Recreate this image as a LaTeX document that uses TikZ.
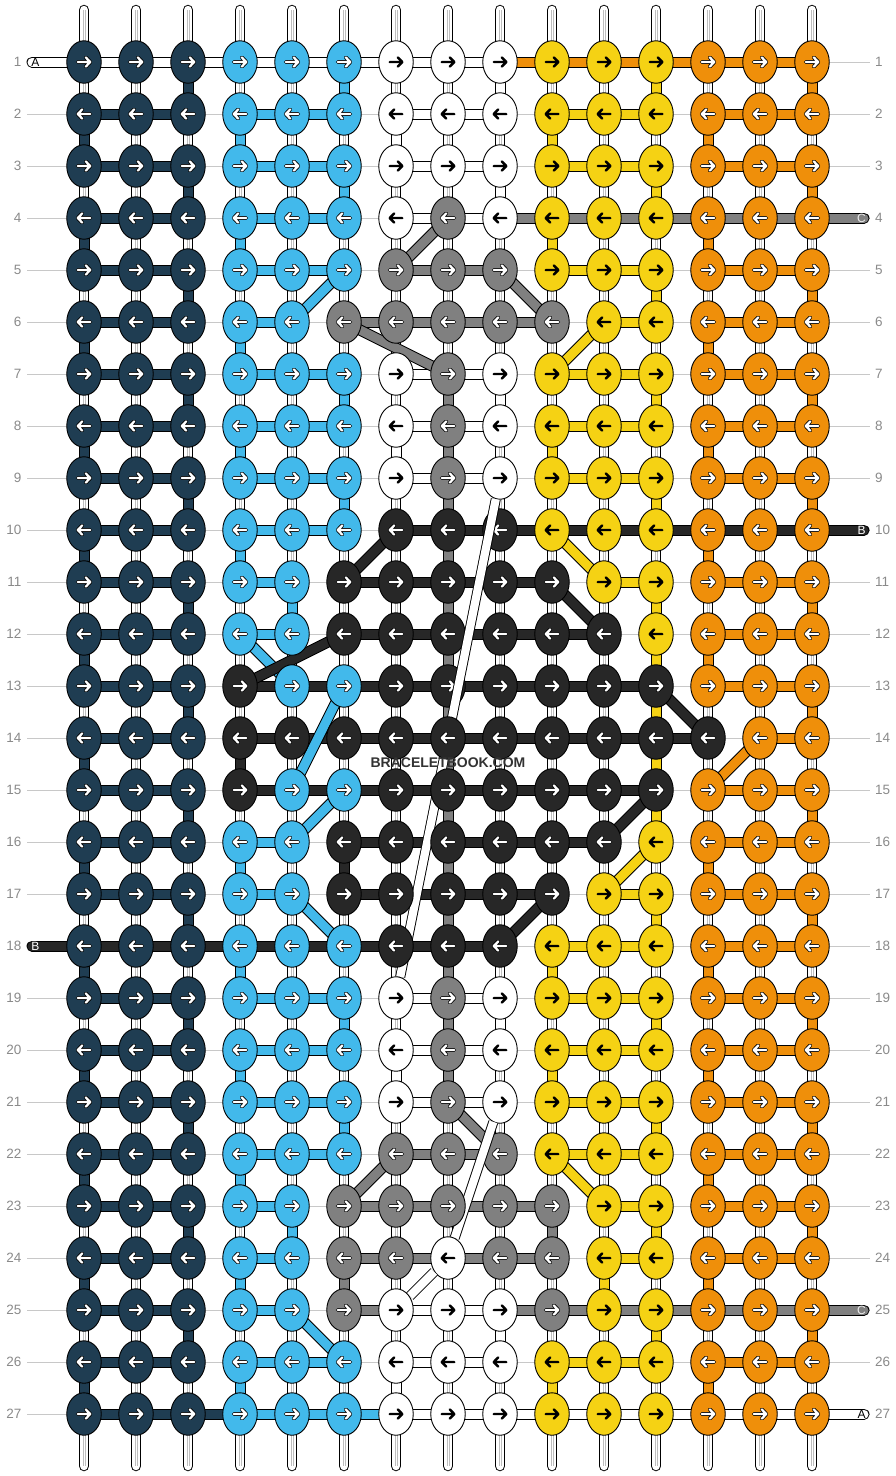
\documentclass[tikz,border=0pt]{standalone}
\usepackage{fontspec}
\setmainfont{Liberation Sans}
\usetikzlibrary{shapes.geometric}
\definecolor{cN}{HTML}{1F3D52}
\definecolor{cL}{HTML}{42B9EB}
\definecolor{cW}{HTML}{FFFFFF}
\definecolor{cY}{HTML}{F5D214}
\definecolor{cO}{HTML}{EF8F0A}
\definecolor{cG}{HTML}{808080}
\definecolor{cK}{HTML}{272727}
\definecolor{guide}{HTML}{C8C8C8}
\definecolor{numgray}{HTML}{8A8A8A}
\definecolor{innerline}{HTML}{BEBEBE}
\definecolor{wmark}{HTML}{333333}
\newcommand\hrun[4]{\draw[barout] (p-#1-#2) -- (p-#1-#3);\draw[barfill,draw=c#4] (p-#1-#2) -- (p-#1-#3);}
\newcommand\vrun[4]{\draw[barout] (p-#2-#1) -- (p-#3-#1);\draw[barfill,draw=c#4] (p-#2-#1) -- (p-#3-#1);}
\newcommand\drun[5]{\draw[barout] (p-#2-#1) -- (p-#4-#3);\draw[barfill,draw=c#5] (p-#2-#1) -- (p-#4-#3);}
\newcommand\defruns[1]{\hrun{#1}{1}{3}{N}\hrun{#1}{4}{6}{L}\hrun{#1}{7}{9}{W}\hrun{#1}{10}{12}{Y}\hrun{#1}{13}{15}{O}}
\newcommand\strand[3]{\draw[line width=10pt,black,shorten <=#3pt,shorten >=#3pt] (#1) -- (#2);\draw[line width=8.2pt,white,shorten <=#3pt,shorten >=#3pt] (#1) -- (#2);}
\begin{document}
\begin{tikzpicture}[x=1pt,y=-1pt,
  knot/.style={ellipse, draw=black, line width=0.9pt, minimum width=34.5pt, minimum height=42.5pt, inner sep=0pt},
  barout/.style={line width=11pt, draw=black, line cap=round},
  barfill/.style={line width=9pt, line cap=round},
  arrout/.style={line width=3.8pt, draw=black, line cap=round, line join=round},
  arrwhite/.style={line width=2.3pt, draw=white, line cap=round, line join=round},
  arrblack/.style={line width=2.4pt, draw=black, line cap=round, line join=round},
  rownum/.style={font=\fontsize{13.5}{14}\selectfont, text=numgray, inner sep=0pt},
  endlabel/.style={font=\fontsize{12}{13}\selectfont, inner sep=0pt},
  guideline/.style={draw=guide, line width=0.8pt},
]
\fill[white] (0,0) rectangle (896,1476);
\useasboundingbox (0,0) rectangle (896,1476);
% grid coordinates
\foreach \r in {1,...,27}{\foreach \j in {0,...,16}{\coordinate (p-\r-\j) at ({32+52*\j},{10+52*\r});}}
% guide lines and row numbers
\foreach \r in {1,...,27}{
  \draw[guideline] (27,{10+52*\r}) -- (870,{10+52*\r});
  \node[rownum, anchor=east] (ln\r) at (21.5,{10+52*\r}) {\r};
  \node[rownum, anchor=west] (rn\r) at (875,{10+52*\r}) {\r};
}
% vertical strings
\foreach \j in {1,...,15}{
  \draw[line width=10.5pt, black, line cap=round] ({32+52*\j},10) -- ({32+52*\j},1466);
  \draw[line width=8.5pt, white, line cap=round] ({32+52*\j},10) -- ({32+52*\j},1466);
  \draw[innerline, line width=0.6pt] ({32+52*\j-1.2},10) -- ({32+52*\j-1.2},1466);
  \draw[innerline, line width=0.6pt] ({32+52*\j+1.2},10) -- ({32+52*\j+1.2},1466);
}
% horizontal runs
\hrun{1}{0}{9}{W}\hrun{1}{9}{15}{O}
\defruns{2}\defruns{3}
\hrun{4}{1}{3}{N}\hrun{4}{4}{6}{L}\hrun{4}{9}{16}{G}\hrun{4}{7}{9}{W}
\hrun{5}{1}{3}{N}\hrun{5}{4}{6}{L}\hrun{5}{7}{9}{G}\hrun{5}{10}{12}{Y}\hrun{5}{13}{15}{O}
\hrun{6}{1}{3}{N}\hrun{6}{4}{5}{L}\hrun{6}{6}{10}{G}\hrun{6}{11}{12}{Y}\hrun{6}{13}{15}{O}
\defruns{7}\defruns{8}\defruns{9}
\hrun{10}{1}{3}{N}\hrun{10}{4}{6}{L}\hrun{10}{7}{16}{K}
\hrun{11}{1}{3}{N}\hrun{11}{4}{5}{L}\hrun{11}{6}{10}{K}\hrun{11}{11}{12}{Y}\hrun{11}{13}{15}{O}
\hrun{12}{1}{3}{N}\hrun{12}{4}{5}{L}\hrun{12}{6}{11}{K}\hrun{12}{13}{15}{O}
\hrun{13}{1}{3}{N}\hrun{13}{4}{12}{K}\hrun{13}{13}{15}{O}
\hrun{14}{1}{3}{N}\hrun{14}{4}{13}{K}\hrun{14}{14}{15}{O}
\hrun{15}{1}{3}{N}\hrun{15}{4}{12}{K}\hrun{15}{13}{15}{O}
\hrun{16}{1}{3}{N}\hrun{16}{4}{5}{L}\hrun{16}{6}{11}{K}\hrun{16}{13}{15}{O}
\hrun{17}{1}{3}{N}\hrun{17}{4}{5}{L}\hrun{17}{6}{10}{K}\hrun{17}{11}{12}{Y}\hrun{17}{13}{15}{O}
\hrun{18}{0}{9}{K}\hrun{18}{10}{12}{Y}\hrun{18}{13}{15}{O}
\defruns{19}\defruns{20}\defruns{21}
\hrun{22}{1}{3}{N}\hrun{22}{4}{6}{L}\hrun{22}{7}{9}{G}\hrun{22}{10}{12}{Y}\hrun{22}{13}{15}{O}
\hrun{23}{1}{3}{N}\hrun{23}{4}{5}{L}\hrun{23}{6}{10}{G}\hrun{23}{11}{12}{Y}\hrun{23}{13}{15}{O}
\hrun{24}{1}{3}{N}\hrun{24}{4}{5}{L}\hrun{24}{6}{10}{G}\hrun{24}{11}{12}{Y}\hrun{24}{13}{15}{O}
\hrun{25}{1}{3}{N}\hrun{25}{4}{5}{L}\hrun{25}{6}{16}{G}\hrun{25}{7}{9}{W}
\defruns{26}
\hrun{27}{1}{4}{N}\hrun{27}{4}{7}{L}\hrun{27}{7}{16}{W}
% vertical runs: navy and orange zigzag
\foreach \r in {1,3,...,25}{\pgfmathtruncatemacro\rn{\r+1}\vrun{3}{\r}{\rn}{N}\vrun{15}{\r}{\rn}{O}}
\foreach \r in {2,4,...,26}{\pgfmathtruncatemacro\rn{\r+1}\vrun{1}{\r}{\rn}{N}\ifnum\r=14\else\vrun{13}{\r}{\rn}{O}\fi}
% blue
\vrun{6}{1}{2}{L}\vrun{4}{2}{3}{L}\vrun{6}{3}{4}{L}\vrun{4}{4}{5}{L}\vrun{4}{6}{7}{L}\vrun{6}{7}{8}{L}\vrun{4}{8}{9}{L}\vrun{6}{9}{10}{L}\vrun{4}{10}{11}{L}\vrun{5}{11}{12}{L}\vrun{4}{16}{17}{L}\vrun{4}{18}{19}{L}\vrun{6}{19}{20}{L}\vrun{4}{20}{21}{L}\vrun{6}{21}{22}{L}\vrun{4}{22}{23}{L}\vrun{5}{23}{24}{L}\vrun{4}{24}{25}{L}\vrun{4}{26}{27}{L}
% white
\vrun{9}{1}{2}{W}\vrun{7}{2}{3}{W}\vrun{9}{3}{4}{W}\vrun{9}{7}{8}{W}\vrun{7}{8}{9}{W}\vrun{9}{19}{20}{W}\vrun{7}{20}{21}{W}\vrun{9}{25}{26}{W}\vrun{7}{26}{27}{W}
% yellow
\vrun{12}{1}{2}{Y}\vrun{10}{2}{3}{Y}\vrun{12}{3}{4}{Y}\vrun{10}{4}{5}{Y}\vrun{12}{5}{6}{Y}\vrun{12}{7}{8}{Y}\vrun{10}{8}{9}{Y}\vrun{12}{9}{10}{Y}\vrun{12}{11}{16}{Y}\vrun{12}{17}{18}{Y}\vrun{10}{18}{19}{Y}\vrun{12}{19}{20}{Y}\vrun{10}{20}{21}{Y}\vrun{12}{21}{22}{Y}\vrun{12}{23}{24}{Y}\vrun{11}{24}{25}{Y}\vrun{12}{25}{26}{Y}\vrun{10}{26}{27}{Y}
% gray and black verticals
\vrun{8}{7}{21}{G}\vrun{10}{23}{24}{G}\vrun{6}{24}{25}{G}
\vrun{4}{14}{15}{K}\vrun{6}{16}{17}{K}
% diagonals
\drun{6}{5}{5}{6}{L}\drun{4}{12}{5}{13}{L}\drun{6}{13}{5}{15}{L}\drun{6}{15}{5}{16}{L}\drun{5}{17}{6}{18}{L}\drun{5}{25}{6}{26}{L}
\drun{11}{6}{10}{7}{Y}\drun{10}{10}{11}{11}{Y}\drun{12}{16}{11}{17}{Y}\drun{10}{22}{11}{23}{Y}
\drun{14}{14}{13}{15}{O}
\drun{8}{4}{7}{5}{G}\drun{9}{5}{10}{6}{G}\drun{6}{6}{8}{7}{G}\drun{8}{21}{9}{22}{G}\drun{7}{22}{6}{23}{G}
\drun{7}{10}{6}{11}{K}\drun{10}{11}{11}{12}{K}\drun{6}{12}{4}{13}{K}\drun{12}{13}{13}{14}{K}\drun{12}{15}{11}{16}{K}\drun{10}{17}{9}{18}{K}
% knots
\foreach \r/\row in {
 1/{N,N,N,L,L,L,W,W,W,Y,Y,Y,O,O,O},
 2/{N,N,N,L,L,L,W,W,W,Y,Y,Y,O,O,O},
 3/{N,N,N,L,L,L,W,W,W,Y,Y,Y,O,O,O},
 4/{N,N,N,L,L,L,W,G,W,Y,Y,Y,O,O,O},
 5/{N,N,N,L,L,L,G,G,G,Y,Y,Y,O,O,O},
 6/{N,N,N,L,L,G,G,G,G,G,Y,Y,O,O,O},
 7/{N,N,N,L,L,L,W,G,W,Y,Y,Y,O,O,O},
 8/{N,N,N,L,L,L,W,G,W,Y,Y,Y,O,O,O},
 9/{N,N,N,L,L,L,W,G,W,Y,Y,Y,O,O,O},
 10/{N,N,N,L,L,L,K,K,K,Y,Y,Y,O,O,O},
 11/{N,N,N,L,L,K,K,K,K,K,Y,Y,O,O,O},
 12/{N,N,N,L,L,K,K,K,K,K,K,Y,O,O,O},
 13/{N,N,N,K,L,L,K,K,K,K,K,K,O,O,O},
 14/{N,N,N,K,K,K,K,K,K,K,K,K,K,O,O},
 15/{N,N,N,K,L,L,K,K,K,K,K,K,O,O,O},
 16/{N,N,N,L,L,K,K,K,K,K,K,Y,O,O,O},
 17/{N,N,N,L,L,K,K,K,K,K,Y,Y,O,O,O},
 18/{N,N,N,L,L,L,K,K,K,Y,Y,Y,O,O,O},
 19/{N,N,N,L,L,L,W,G,W,Y,Y,Y,O,O,O},
 20/{N,N,N,L,L,L,W,G,W,Y,Y,Y,O,O,O},
 21/{N,N,N,L,L,L,W,G,W,Y,Y,Y,O,O,O},
 22/{N,N,N,L,L,L,G,G,G,Y,Y,Y,O,O,O},
 23/{N,N,N,L,L,G,G,G,G,G,Y,Y,O,O,O},
 24/{N,N,N,L,L,G,G,W,G,G,Y,Y,O,O,O},
 25/{N,N,N,L,L,G,W,W,W,G,Y,Y,O,O,O},
 26/{N,N,N,L,L,L,W,W,W,Y,Y,Y,O,O,O},
 27/{N,N,N,L,L,L,W,W,W,Y,Y,Y,O,O,O}}{
  \ifnum\r=14 \strand{p-9-9}{p-19-7}{21.5}\fi
  \ifnum\r=23 \strand{p-21-9}{p-24-8}{21}\fi
  \ifnum\r=25 \strand{p-24-8}{p-25-7}{19.5}\fi
  \pgfmathtruncatemacro\kdir{1-2*mod(\r+1,2)}
  \foreach \kc [count=\j] in \row {
    \node[knot, fill=c\kc] (k-\r-\j) at (p-\r-\j) {};
    \def\klight{0}\if\kc W\def\klight{1}\fi\if\kc Y\def\klight{1}\fi
    \begin{scope}[shift={(p-\r-\j)}, xscale=\kdir]
      \ifnum\klight=1
        \draw[arrblack] (-6.3,0) -- (6.3,0) (1.8,-4.6) -- (6.3,0) -- (1.8,4.6);
      \else
        \draw[arrout] (-6.3,0) -- (6.3,0) (1.8,-4.6) -- (6.3,0) -- (1.8,4.6);
        \draw[arrwhite] (-6.3,0) -- (6.3,0) (1.8,-4.6) -- (6.3,0) -- (1.8,4.6);
      \fi
    \end{scope}
  }
}
% end labels
\node[endlabel, text=black] (lA) at (35.5,62) {A};
\node[endlabel, text=white] (lB) at (35.5,946) {B};
\node[endlabel, text=white!85!gray] (rC1) at (861.5,218) {C};
\node[endlabel, text=white] (rB) at (861.5,530) {B};
\node[endlabel, text=white!85!gray] (rC2) at (861.5,1310) {C};
\node[endlabel, text=black] (rA) at (861.5,1414) {A};
% watermark
\node[font=\bfseries\fontsize{14}{14}\selectfont, text=wmark, inner sep=0pt] (wm) at (448,763) {BRACELETBOOK.COM};
\end{tikzpicture}
\end{document}
